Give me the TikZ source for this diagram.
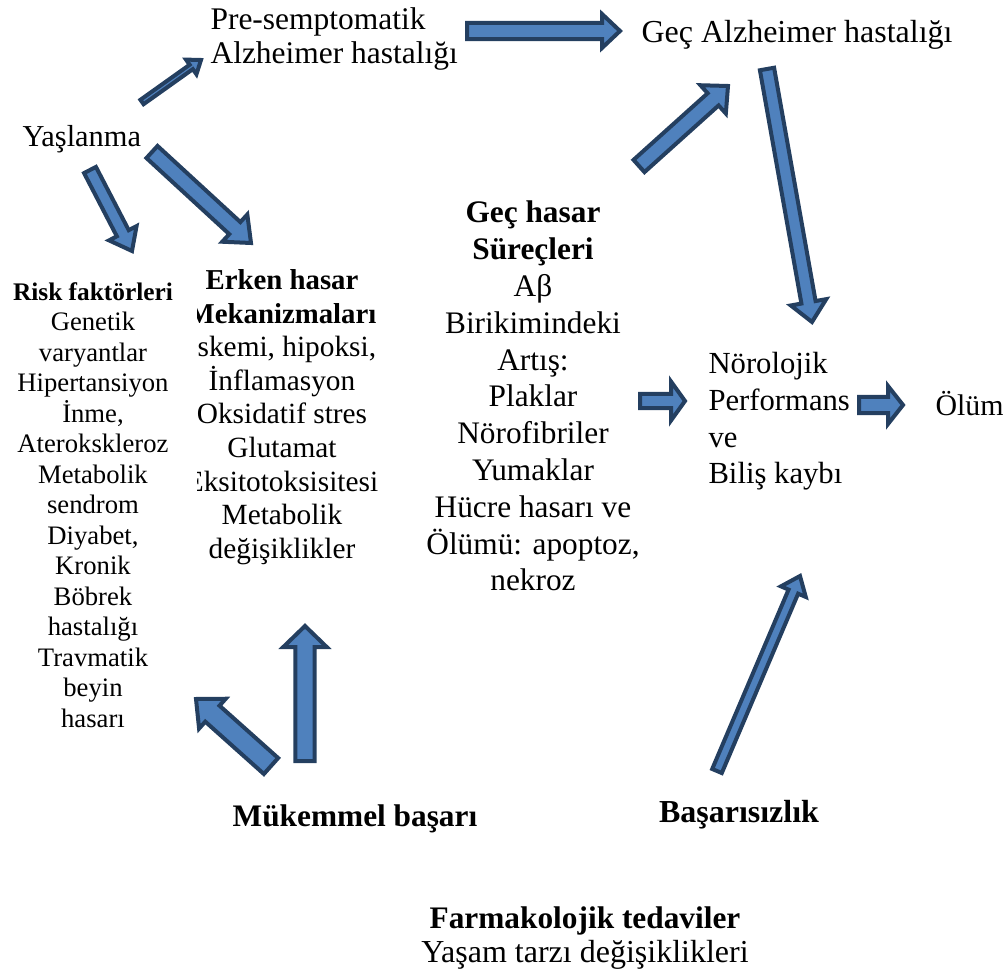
\documentclass[tikz,border=0pt]{standalone}
\usepackage{fontspec}
\setmainfont{Liberation Serif}
\usepackage{tikz}
\usetikzlibrary{calc}

\definecolor{arrowfill}{HTML}{4F81BD}
\definecolor{arrowline}{HTML}{243F60}

\newcommand{\px}{0.375pt}
% block arrow: tail, tip, half shaft, half head, head length (in px)
\newcommand{\barrow}[5]{%
  \coordinate (hb) at ($(#2)!{#5*\px}!(#1)$);
  \draw[blockarrow] ($(#1)!{#3*\px}!90:(#2)$) -- ($(hb)!{#3*\px}!-90:(#1)$)
    -- ($(hb)!{#4*\px}!-90:(#1)$) -- (#2) -- ($(hb)!{#4*\px}!90:(#1)$)
    -- ($(hb)!{#3*\px}!90:(#1)$) -- ($(#1)!{#3*\px}!-90:(#2)$) -- cycle;
}

\tikzset{
  blockarrow/.style={draw=arrowline, fill=arrowfill, line width=1.5pt, line join=miter},
  lbl/.style={inner sep=0pt, font=\fontsize{11.5}{13.8}\selectfont},
}

\begin{document}
\begin{tikzpicture}[x=0.375pt, y=-0.375pt]
\useasboundingbox (0,0) rectangle (1006,979);

\node[lbl, anchor=north west, align=left, font=\fontsize{11.8}{12.75}\selectfont] (pre) at (210,7) {Pre-semptomatik\\Alzheimer hastalığı};
\node[lbl, anchor=base west, font=\fontsize{12}{14}\selectfont] (gecalz) at (641,43) {Geç Alzheimer hastalığı};
\node[lbl, anchor=base west, font=\fontsize{11.4}{13}\selectfont] (yas) at (22,147) {Yaşlanma};

\node[lbl, anchor=north, align=center, font=\fontsize{10}{11.44}\selectfont] (risk) at (93,282)
  {{\bfseries\fontsize{9.5}{11.44}\selectfont Risk faktörleri}\\Genetik\\varyantlar\\Hipertansiyon\\İnme,\\Aterokskleroz\\Metabolik\\sendrom\\Diyabet,\\ Kronik\\Böbrek\\hastalığı\\Travmatik\\beyin\\hasarı};

\begin{scope}
\clip (197,240) rectangle (420,600);
\node[lbl, anchor=north, align=center, font=\fontsize{11}{12.6}\selectfont] (erken) at (282,269)
  {{\bfseries\fontsize{10.8}{12.6}\selectfont Erken hasar}\\{\bfseries\fontsize{10.8}{12.6}\selectfont Mekanizmaları}\\İskemi, hipoksi,\\İnflamasyon\\Oksidatif stres\\Glutamat\\Eksitotoksisitesi\\Metabolik\\değişiklikler};
\end{scope}

\node[lbl, anchor=north, align=center, font=\fontsize{11.75}{13.8}\selectfont] (gechasar) at (533,200.6)
  {\textbf{Geç hasar}\\\textbf{Süreçleri}\\Aβ\\Birikimindeki\\Artış:\\Plaklar\\Nörofibriler\\Yumaklar\\Hücre hasarı ve\\Ölümü: apoptoz,\\nekroz};

\node[lbl, anchor=north west, align=left, font=\fontsize{11.5}{13.75}\selectfont] (norol) at (708,352)
  {Nörolojik\\Performans\\ve\\Biliş kaybı};
\node[lbl, anchor=base west, font=\fontsize{11.2}{13}\selectfont] (olum) at (935,416) {Ölüm};

\node[lbl, anchor=base, font=\bfseries\fontsize{11.75}{14}\selectfont] (mukemmel) at (355,826) {Mükemmel başarı};
\node[lbl, anchor=base, font=\bfseries\fontsize{12}{14}\selectfont] (basarisiz) at (739,822) {Başarısızlık};
\node[lbl, anchor=north, align=center, font=\fontsize{12}{12.75}\selectfont] (farma) at (585,906)
  {{\bfseries\fontsize{11.75}{12.75}\selectfont Farmakolojik tedaviler}\\Yaşam tarzı değişiklikleri};

% arrow ends
\coordinate (yasPreT) at (142,102);  \coordinate (yasPreH) at (201,60);
\coordinate (preGecT) at (467,31);   \coordinate (preGecH) at (620,31);
\coordinate (yasErkT) at (152,152);  \coordinate (yasErkH) at (251,243);
\coordinate (yasRskT) at (90,170);   \coordinate (yasRskH) at (132,251);
\coordinate (hasAlzT) at (639,166);  \coordinate (hasAlzH) at (728,86);
\coordinate (alzNorT) at (767,69);   \coordinate (alzNorH) at (812,322);
\coordinate (hasNorT) at (640,401);  \coordinate (hasNorH) at (685,401);
\coordinate (norOlmT) at (859,405);  \coordinate (norOlmH) at (903,405);
\coordinate (mukErkT) at (305,761);  \coordinate (mukErkH) at (305,626);
\coordinate (mukRskT) at (271,766);  \coordinate (mukRskH) at (196,699);
\coordinate (basNorT) at (717,771);  \coordinate (basNorH) at (800,576);

\barrow{yasPreT}{yasPreH}{2.7}{9}{12}
\barrow{preGecT}{preGecH}{8.2}{17}{18}
\barrow{yasErkT}{yasErkH}{8.2}{18.5}{22}
\barrow{yasRskT}{yasRskH}{6.7}{15.5}{20}
\barrow{hasAlzT}{hasAlzH}{8.2}{19}{20}
\barrow{alzNorT}{alzNorH}{7.2}{18}{20}
\barrow{hasNorT}{hasNorH}{7.2}{19.5}{14}
\barrow{norOlmT}{norOlmH}{8.2}{19}{15}
\barrow{mukErkT}{mukErkH}{9.7}{21.7}{21}
\barrow{mukRskT}{mukRskH}{10.7}{20}{22}
\barrow{basNorT}{basNorH}{5.2}{13.5}{17}

\end{tikzpicture}
\end{document}
